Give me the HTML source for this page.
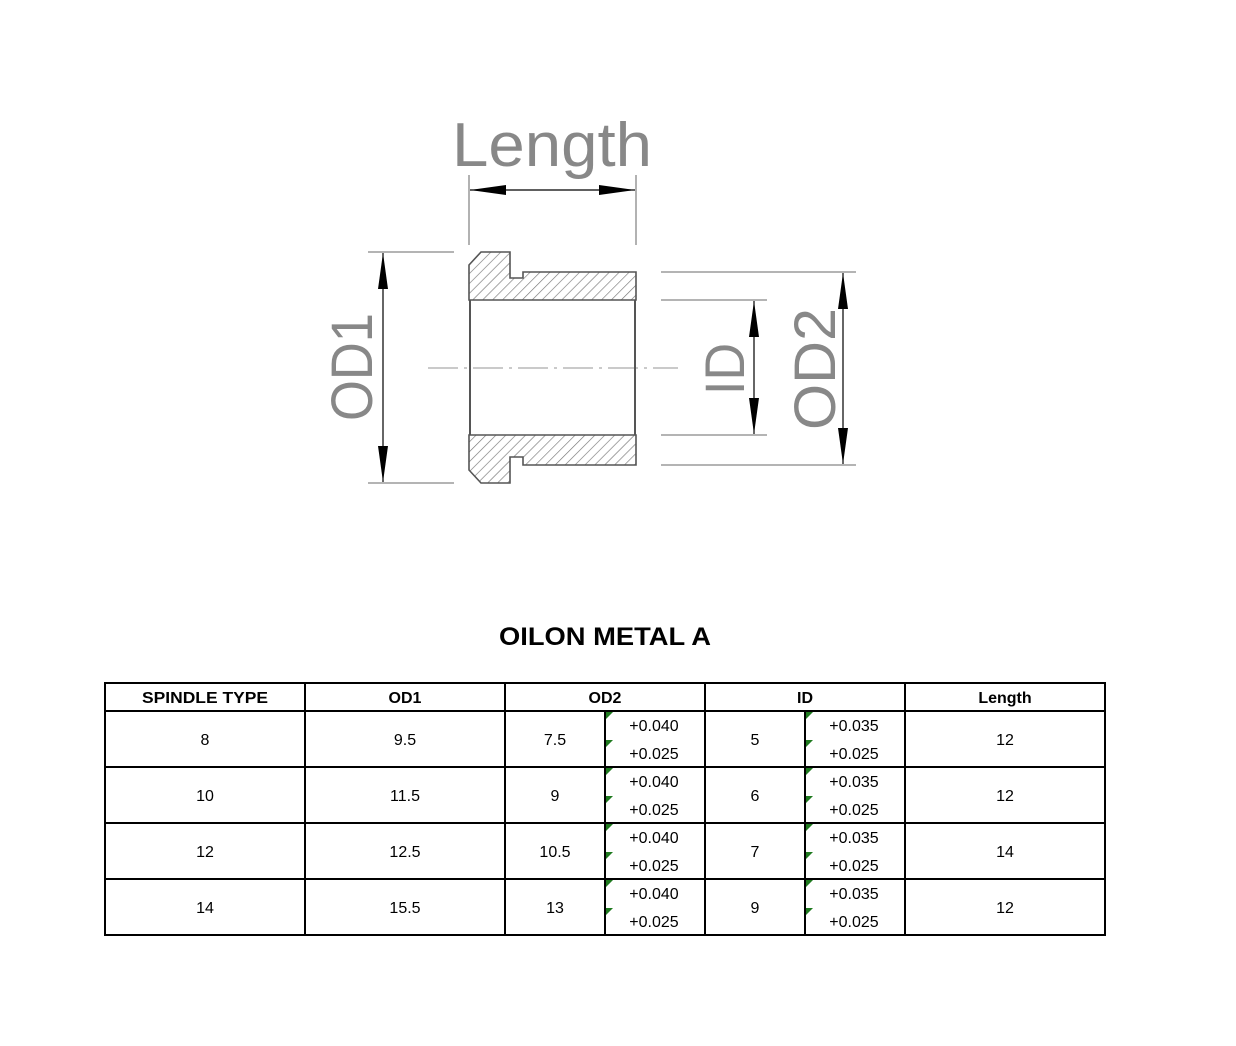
<!DOCTYPE html>
<html><head><meta charset="utf-8"><style>
html,body{margin:0;padding:0;background:#fff;}
svg{display:block;}
</style></head><body>
<svg width="1236" height="1046" viewBox="0 0 1236 1046" xmlns="http://www.w3.org/2000/svg">
<defs>
<pattern id="h" patternUnits="userSpaceOnUse" width="7" height="7" patternTransform="rotate(45)">
<line x1="0" y1="0" x2="0" y2="7" stroke="#777" stroke-width="1.3"/>
</pattern>
<marker id="a" viewBox="0 0 10 10" refX="10" refY="5" markerWidth="36" markerHeight="10" markerUnits="userSpaceOnUse" orient="auto-start-reverse" preserveAspectRatio="none">
<path d="M0,0 L10,5 L0,10 Z" fill="#000"/>
</marker>
</defs>
<g font-family="Liberation Sans, sans-serif" fill="#888">
<text x="452" y="166" font-size="62" textLength="200" lengthAdjust="spacingAndGlyphs">Length</text>
<text transform="translate(372,367) rotate(-90)" text-anchor="middle" font-size="58" textLength="108" lengthAdjust="spacingAndGlyphs">OD1</text>
<text transform="translate(744,369) rotate(-90)" text-anchor="middle" font-size="56" textLength="52" lengthAdjust="spacingAndGlyphs">ID</text>
<text transform="translate(835,369) rotate(-90)" text-anchor="middle" font-size="58" textLength="122" lengthAdjust="spacingAndGlyphs">OD2</text>
</g>
<g stroke="#888" stroke-width="1.3" fill="none">
<!-- length -->
<line x1="469" y1="175" x2="469" y2="245"/>
<line x1="636" y1="175" x2="636" y2="245"/>
<!-- OD1 ext -->
<line x1="368" y1="252" x2="454" y2="252"/>
<line x1="368" y1="483" x2="454" y2="483"/>
<!-- right ext -->
<line x1="661" y1="272" x2="856" y2="272"/>
<line x1="661" y1="465" x2="856" y2="465"/>
<line x1="661" y1="300" x2="767" y2="300"/>
<line x1="661" y1="435" x2="767" y2="435"/>
<!-- center line -->
<line x1="428" y1="368" x2="678" y2="368" stroke-dasharray="30,6,3,6" stroke="#aaa"/>
</g>
<g stroke="#000" stroke-width="1.2">
<line x1="470" y1="190" x2="635" y2="190" marker-start="url(#a)" marker-end="url(#a)"/>
<line x1="383" y1="253" x2="383" y2="482" marker-start="url(#a)" marker-end="url(#a)"/>
<line x1="754" y1="301" x2="754" y2="434" marker-start="url(#a)" marker-end="url(#a)"/>
<line x1="843" y1="273" x2="843" y2="464" marker-start="url(#a)" marker-end="url(#a)"/>
</g>
<!-- part -->
<g stroke="#555" stroke-width="1.6">
<path d="M469,265 L481,252 L510,252 L510,278 L523,278 L523,272 L636,272 L636,300 L469,300 Z" fill="url(#h)"/>
<path d="M469,470 L481,483 L510,483 L510,457 L523,457 L523,465 L636,465 L636,435 L469,435 Z" fill="url(#h)"/>
<line x1="470" y1="300" x2="470" y2="435" stroke-width="2"/>
<line x1="635" y1="300" x2="635" y2="435" stroke-width="2"/>
</g>
<!-- title -->
<text x="605" y="645" text-anchor="middle" font-family="Liberation Sans, sans-serif" font-weight="bold" font-size="25" fill="#000" textLength="212" lengthAdjust="spacingAndGlyphs">OILON METAL A</text>
<!-- table -->
<g stroke="#000" stroke-width="2" fill="none">
<rect x="105" y="683" width="1000" height="252"/>
<line x1="105" y1="711" x2="1105" y2="711"/>
<line x1="105" y1="767" x2="1105" y2="767"/>
<line x1="105" y1="823" x2="1105" y2="823"/>
<line x1="105" y1="879" x2="1105" y2="879"/>
<line x1="305" y1="683" x2="305" y2="935"/>
<line x1="505" y1="683" x2="505" y2="935"/>
<line x1="705" y1="683" x2="705" y2="935"/>
<line x1="905" y1="683" x2="905" y2="935"/>
<line x1="605" y1="711" x2="605" y2="935"/>
<line x1="805" y1="711" x2="805" y2="935"/>
</g>
<g fill="#1f7a1f">
<path d="M606,712h7l-7,7z M606,740h7l-7,7z M806,712h7l-7,7z M806,740h7l-7,7z"/>
<path d="M606,768h7l-7,7z M606,796h7l-7,7z M806,768h7l-7,7z M806,796h7l-7,7z"/>
<path d="M606,824h7l-7,7z M606,852h7l-7,7z M806,824h7l-7,7z M806,852h7l-7,7z"/>
<path d="M606,880h7l-7,7z M606,908h7l-7,7z M806,880h7l-7,7z M806,908h7l-7,7z"/>
</g>
<g font-family="Liberation Sans, sans-serif" font-size="16" fill="#000" text-anchor="middle">
<g font-weight="bold" font-size="16">
<text x="205" y="703" textLength="126" lengthAdjust="spacingAndGlyphs">SPINDLE TYPE</text>
<text x="405" y="703">OD1</text>
<text x="605" y="703">OD2</text>
<text x="805" y="703">ID</text>
<text x="1005" y="703">Length</text>
</g>
<text x="205" y="745">8</text><text x="405" y="745">9.5</text><text x="555" y="745">7.5</text><text x="755" y="745">5</text><text x="1005" y="745">12</text>
<text x="205" y="801">10</text><text x="405" y="801">11.5</text><text x="555" y="801">9</text><text x="755" y="801">6</text><text x="1005" y="801">12</text>
<text x="205" y="857">12</text><text x="405" y="857">12.5</text><text x="555" y="857">10.5</text><text x="755" y="857">7</text><text x="1005" y="857">14</text>
<text x="205" y="913">14</text><text x="405" y="913">15.5</text><text x="555" y="913">13</text><text x="755" y="913">9</text><text x="1005" y="913">12</text>
<g>
<text x="654" y="731">+0.040</text><text x="654" y="759">+0.025</text>
<text x="854" y="731">+0.035</text><text x="854" y="759">+0.025</text>
<text x="654" y="787">+0.040</text><text x="654" y="815">+0.025</text>
<text x="854" y="787">+0.035</text><text x="854" y="815">+0.025</text>
<text x="654" y="843">+0.040</text><text x="654" y="871">+0.025</text>
<text x="854" y="843">+0.035</text><text x="854" y="871">+0.025</text>
<text x="654" y="899">+0.040</text><text x="654" y="927">+0.025</text>
<text x="854" y="899">+0.035</text><text x="854" y="927">+0.025</text>
</g>
</g>
</svg>
</body></html>
